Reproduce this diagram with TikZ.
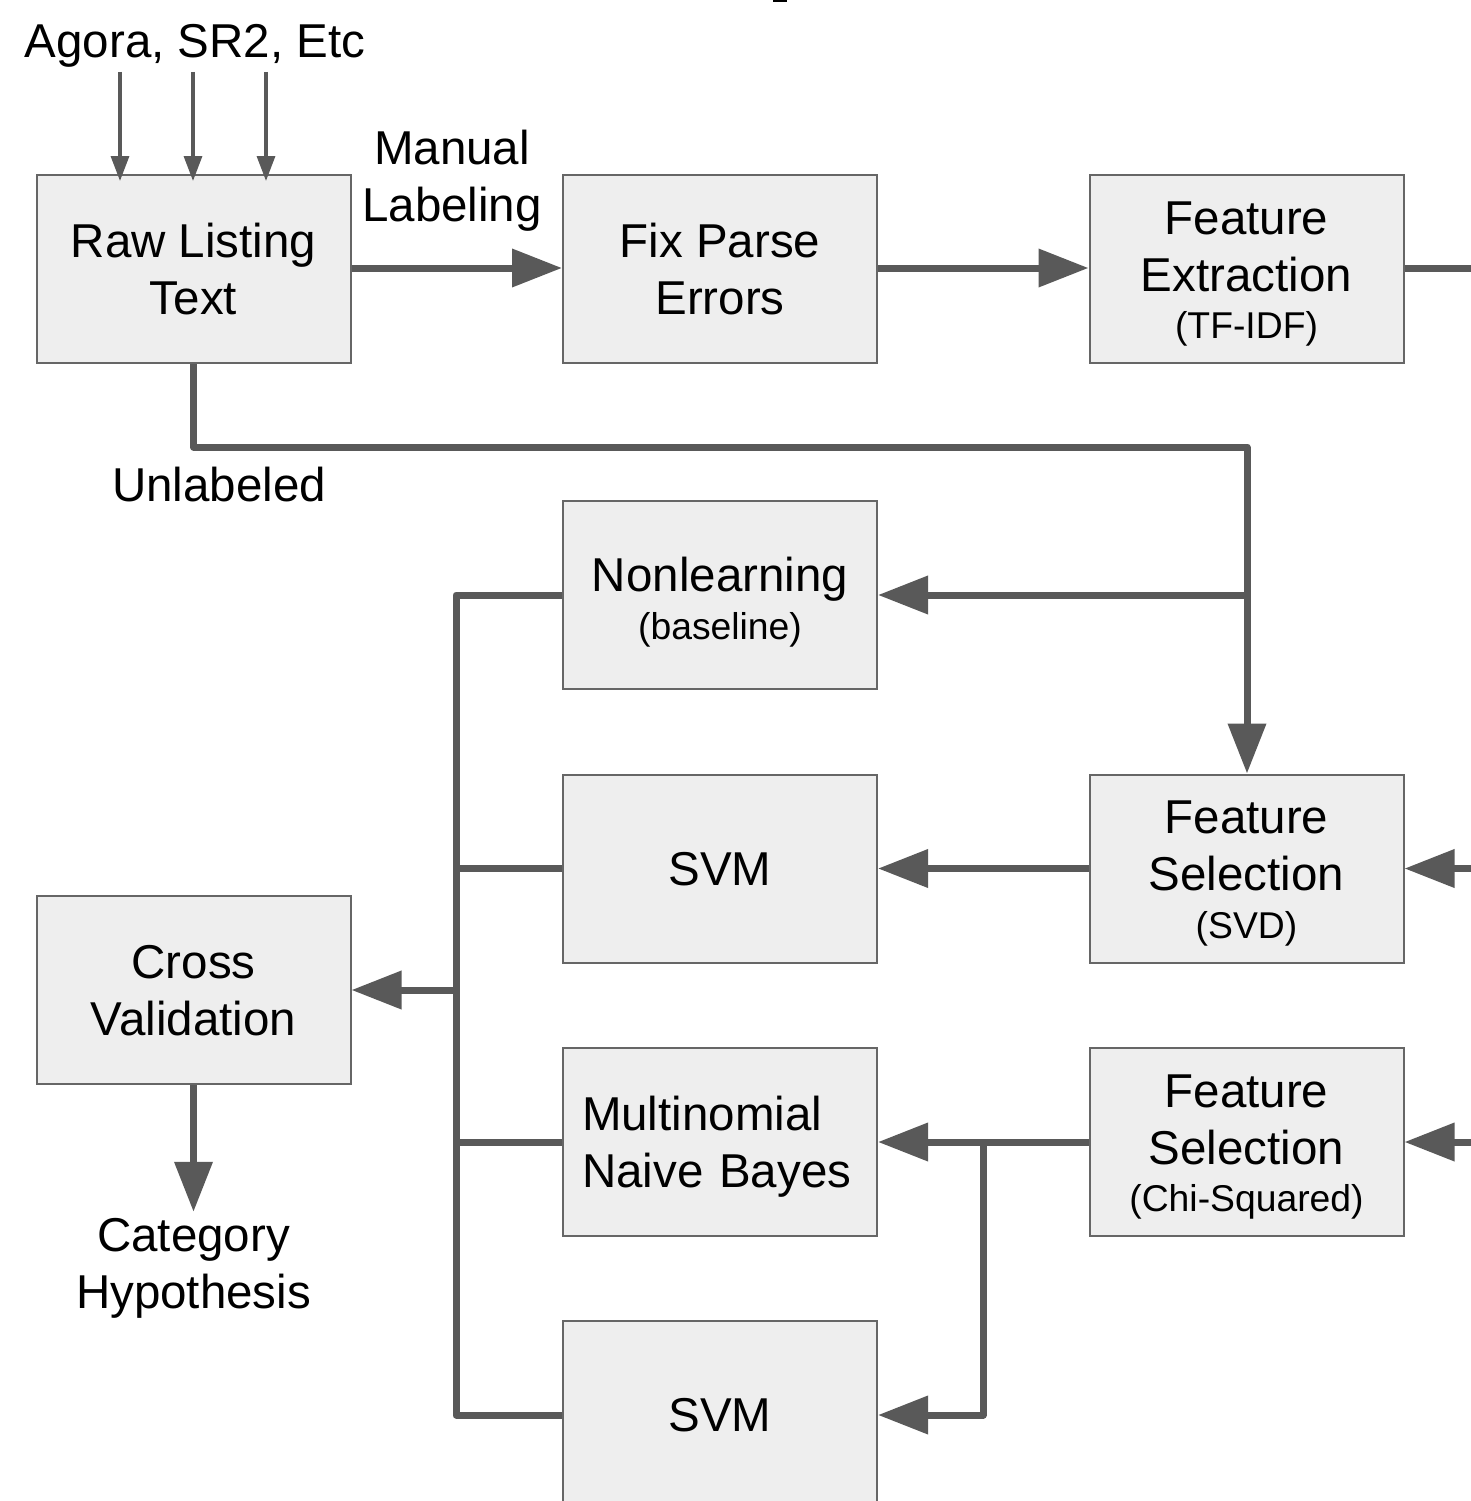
\documentclass[tikz,border=0pt]{standalone}
\usepackage{fontspec}
\setmainfont{Liberation Sans}
\usetikzlibrary{arrows.meta}
\definecolor{boxfill}{HTML}{EEEEEE}
\definecolor{boxline}{HTML}{666666}
\definecolor{conncol}{HTML}{595959}
\newcommand\mytop{\rule{0pt}{43pt}}
\newcommand\mybot{\rule[-10pt]{0pt}{10pt}}
\newcommand\mysbot{\rule[-7.9pt]{0pt}{7.9pt}}
\newcommand\smallline[1]{{\fontsize{37.3}{45}\selectfont #1\mysbot}}
\begin{document}
\begin{tikzpicture}[x=1pt,y=-1pt,
  bigfont/.style={font=\fontsize{47.5}{57}\selectfont},
  box/.style={draw=boxline, fill=boxfill, line width=2pt, minimum width=314pt,
    minimum height=188pt, inner sep=0pt, align=center, bigfont},
  lbl/.style={inner sep=0pt, align=center, bigfont},
  conn/.style={draw=conncol, line width=7pt, line join=round},
  arr/.style={-{Triangle[length=50pt,width=37pt]}},
  thinarr/.style={draw=conncol, line width=3.3pt, -{Triangle[length=25pt,width=18pt]}}
]
\useasboundingbox (0,0) rectangle (1471,1501);
\clip (0,0) rectangle (1471,1501);
\fill[black] (773,0) rectangle (787,2.5);

% boxes
\node[box] (raw) at (193.5,269) {\mytop Raw Listing\\Text\mybot};
\node[box] (fix) at (720,269) {\mytop Fix Parse\\Errors\mybot};
\node[box] (fe) at (1246.5,269) {\mytop Feature\\Extraction\\[-9.4pt]\smallline{(TF-IDF)}};
\node[box] (nl) at (720,594.5) {\rule{0pt}{50pt}Nonlearning\\[-9.4pt]\smallline{(baseline)}};
\node[box] (svma) at (720,868.5) {\mytop SVM\mybot};
\node[box] (fss) at (1246.5,868.5) {\mytop Feature\\Selection\\[-9.4pt]\smallline{(SVD)}};
\node[box] (cv) at (193.5,990) {\mytop Cross\\Validation\mybot};
\node[box, text width=276pt, align=left] (mnb) at (720,1142) {\mytop Multinomial\\Naive Bayes\mybot};
\node[box] (fsc) at (1246.5,1142) {\mytop Feature\\Selection\\[-9.4pt]\smallline{(Chi-Squared)}};
\node[box] (svmb) at (720,1415) {\mytop SVM\mybot};

% labels
\node[lbl, anchor=base] (src) at (195,58) {Agora, SR2, Etc};
\node[lbl] (man) at (452,181) {Manual\\Labeling};
\node[lbl, anchor=base] (unl) at (219,501) {Unlabeled};
\node[lbl] (cat) at (193.5,1268) {Category\\Hypothesis};

% source arrows
\coordinate (s1) at (120,72);
\coordinate (s2) at (193,72);
\coordinate (s3) at (266,72);
\draw[thinarr, shorten >=-7pt] (s1) -- (s1 |- raw.north);
\draw[thinarr, shorten >=-7pt] (s2) -- (s2 |- raw.north);
\draw[thinarr, shorten >=-7pt] (s3) -- (s3 |- raw.north);

% top row
\draw[conn, arr] (raw.east |- 0,268) -- (fix.west |- 0,268);
\draw[conn, arr] (fix.east |- 0,268) -- (fe.west |- 0,268);
\coordinate (r1) at (1530,268);
\draw[conn] (fe.east |- 0,268) -- (r1);
\draw[conn, arr] (r1) |- (fss.east);
\draw[conn, arr] (r1) |- (fsc.east);

% unlabeled path
\coordinate (j1) at (1247,447);
\coordinate (j2) at (1247,595);
\draw[conn, arr] (raw.south) |- (j1) -- (j1 |- fss.north);
\draw[conn, arr] (j2) -- (nl.east |- j2);

% feature selection to classifiers
\draw[conn, arr] (fss.west) -- (svma.east);
\draw[conn, arr] (fsc.west) -- (mnb.east);
\coordinate (cx) at (983,1142);
\draw[conn, arr] (cx) |- (svmb.east);

% left bus
\coordinate (bx) at (456,0);
\draw[conn] (nl.west |- j2) -| (bx |- svmb.west) -- (svmb.west);
\draw[conn] (svma.west) -- (svma.west -| bx);
\draw[conn] (mnb.west) -- (mnb.west -| bx);
\draw[conn, arr] (cv.east -| bx) -- (cv.east);

% cross validation output
\draw[conn, arr, shorten >=6pt] (cv.south) -- (cat.north);
\end{tikzpicture}
\end{document}
